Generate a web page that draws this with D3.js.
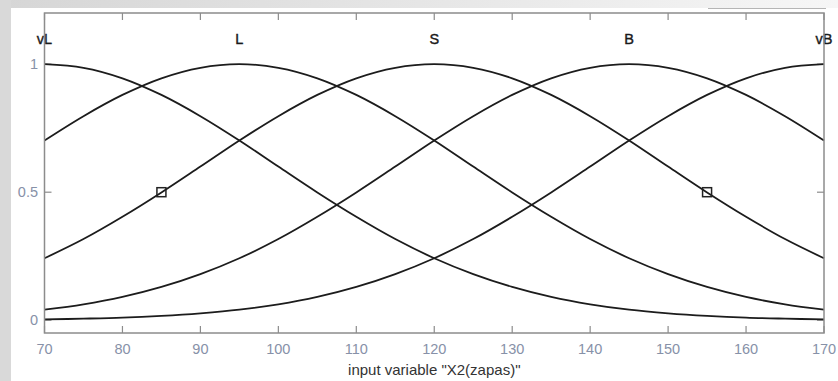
<!DOCTYPE html>
<html>
<head>
<meta charset="utf-8">
<script src="https://cdn.jsdelivr.net/npm/d3@7"></script>
<style>
  body { margin: 0; background: #fff; }
  svg { display: block; font-family: "Liberation Sans", Arial, sans-serif; }
</style>
</head>
<body>
<svg id="chart" width="838" height="381"></svg>
<script>
// input variable values where the curves were read
const xValues = [70, 75, 80, 85, 90, 95, 100, 105, 110, 115, 120, 125, 130, 135, 140, 145, 150, 155, 160, 165, 170];

// membership values (gaussian-like MFs)
const vL = [1, 0.986, 0.945, 0.880, 0.797, 0.702, 0.600, 0.499, 0.404, 0.317, 0.242, 0.180, 0.130, 0.091, 0.062, 0.041, 0.027, 0.017, 0.010, 0.006, 0.003];
const L  = [0.702, 0.797, 0.880, 0.945, 0.986, 1, 0.986, 0.945, 0.880, 0.797, 0.702, 0.600, 0.499, 0.404, 0.317, 0.242, 0.180, 0.130, 0.091, 0.062, 0.041];
const S  = [0.242, 0.317, 0.404, 0.499, 0.600, 0.702, 0.797, 0.880, 0.945, 0.986, 1, 0.986, 0.945, 0.880, 0.797, 0.702, 0.600, 0.499, 0.404, 0.317, 0.242];
const B  = [0.041, 0.062, 0.091, 0.130, 0.180, 0.242, 0.317, 0.404, 0.499, 0.600, 0.702, 0.797, 0.880, 0.945, 0.986, 1, 0.986, 0.945, 0.880, 0.797, 0.702];
const vB = [0.003, 0.006, 0.010, 0.017, 0.027, 0.041, 0.062, 0.091, 0.130, 0.180, 0.242, 0.317, 0.404, 0.499, 0.600, 0.702, 0.797, 0.880, 0.945, 0.986, 1];

const mfNames = ["vL", "L", "S", "B", "vB"];
const mfCenters = [70, 95, 120, 145, 170];
const mfSeries = [vL, L, S, B, vB];

// the two small squares on the selected MF
const markerX = [85, 155];
const markerY = [0.5, 0.5];

const xTicks = [70, 80, 90, 100, 110, 120, 130, 140, 150, 160, 170];
const yTicks = [0, 0.5, 1];
const xLabel = 'input variable "X2(zapas)"';

const svg = d3.select("#chart");

// page background (grey slide edge)
const defs = svg.append("defs");
const grad = defs.append("linearGradient").attr("id", "topGrad");
grad.append("stop").attr("offset", "0%").attr("stop-color", "#d6d6d6");
grad.append("stop").attr("offset", "100%").attr("stop-color", "#f6f6f6");

svg.append("rect").attr("x", 0).attr("y", 0).attr("width", 838).attr("height", 381).attr("fill", "#fff");
svg.append("rect").attr("x", 0).attr("y", 0).attr("width", 838).attr("height", 8).attr("fill", "url(#topGrad)");
svg.append("rect").attr("x", 0).attr("y", 0).attr("width", 11).attr("height", 381).attr("fill", "#d9d9d9");
svg.append("line").attr("x1", 708).attr("x2", 826).attr("y1", 8.5).attr("y2", 8.5)
  .attr("stroke", "#b5b5b5").attr("stroke-width", 1);

const plotLeft = 44.5, plotRight = 824, plotTop = 13, plotBottom = 333;

const x = d3.scaleLinear().domain([70, 170]).range([plotLeft, plotRight]);
const y = d3.scaleLinear().domain([-0.05, 1.2]).range([plotBottom, plotTop]);

const axisColor = "#8c8c8c";
const tickColor = "#8791a8";

// ticks (inward on all four sides)
const g = svg.append("g");
xTicks.forEach(t => {
  g.append("line").attr("x1", x(t)).attr("x2", x(t)).attr("y1", plotBottom).attr("y2", plotBottom - 7)
    .attr("stroke", axisColor).attr("stroke-width", 1.2);
  g.append("line").attr("x1", x(t)).attr("x2", x(t)).attr("y1", plotTop).attr("y2", plotTop + 7)
    .attr("stroke", axisColor).attr("stroke-width", 1.2);
  g.append("text").attr("x", x(t)).attr("y", 354).attr("text-anchor", "middle")
    .attr("font-size", 14.5).attr("fill", tickColor).text(t);
});
yTicks.forEach(t => {
  g.append("line").attr("x1", plotLeft).attr("x2", plotLeft + 7).attr("y1", y(t)).attr("y2", y(t))
    .attr("stroke", axisColor).attr("stroke-width", 1.2);
  g.append("line").attr("x1", plotRight).attr("x2", plotRight - 7).attr("y1", y(t)).attr("y2", y(t))
    .attr("stroke", axisColor).attr("stroke-width", 1.2);
  g.append("text").attr("x", 38).attr("y", y(t) + 5).attr("text-anchor", "end")
    .attr("font-size", 14.5).attr("fill", tickColor).text(t);
});

// curves
const line = d3.line()
  .x((d, i) => x(xValues[i]))
  .y(d => y(d))
  .curve(d3.curveCatmullRom);

svg.append("g").selectAll("path")
  .data(mfSeries)
  .join("path")
  .attr("d", d => line(d))
  .attr("fill", "none")
  .attr("stroke", "#1c1c1c")
  .attr("stroke-width", 1.8);

// squares
svg.append("g").selectAll("rect")
  .data(markerX)
  .join("rect")
  .attr("x", (d, i) => x(d) - 4.5)
  .attr("y", (d, i) => y(markerY[i]) - 4.5)
  .attr("width", 9).attr("height", 9)
  .attr("fill", "none").attr("stroke", "#222").attr("stroke-width", 1.5);

// MF names
svg.append("g").selectAll("text")
  .data(mfNames)
  .join("text")
  .attr("x", (d, i) => x(mfCenters[i]))
  .attr("y", y(1.09) + 3)
  .attr("text-anchor", "middle")
  .attr("font-size", 14.5)
  .attr("fill", "#1a1a1a")
  .attr("stroke", "#1a1a1a")
  .attr("stroke-width", 0.4)
  .text(d => d);

// box
svg.append("rect").attr("x", plotLeft).attr("y", plotTop).attr("width", plotRight - plotLeft).attr("height", plotBottom - plotTop)
  .attr("fill", "none").attr("stroke", axisColor).attr("stroke-width", 1.5);

svg.append("text").attr("x", x(120)).attr("y", 375).attr("text-anchor", "middle")
  .attr("font-size", 15).attr("fill", "#333").text(xLabel);
</script>
</body>
</html>
